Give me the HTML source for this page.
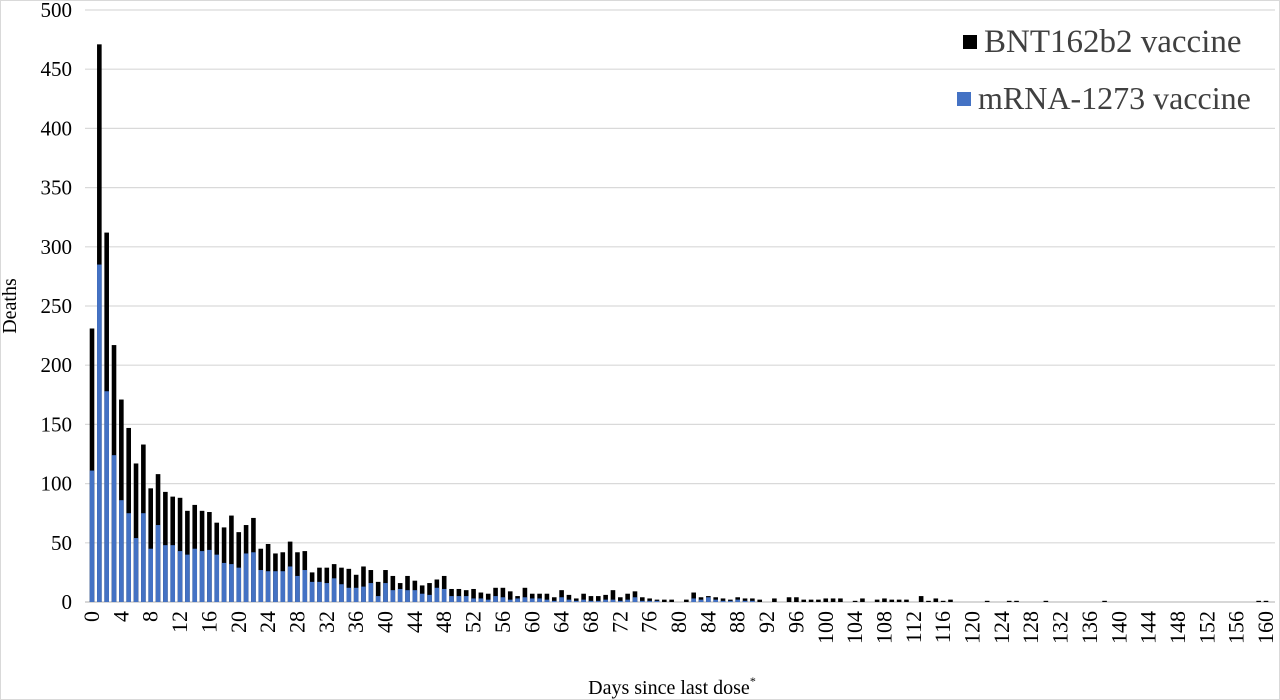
<!DOCTYPE html>
<html><head><meta charset="utf-8"><style>
html,body{margin:0;padding:0;background:#fff;}
svg{display:block;font-family:"Liberation Serif",serif;}
</style></head><body>
<svg width="1280" height="700" viewBox="0 0 1280 700" xmlns="http://www.w3.org/2000/svg">
<rect x="0.5" y="0.5" width="1279" height="699" fill="#fff" stroke="#d9d9d9"/>
<g id="grid" stroke="#d9d9d9" stroke-width="1.2"></g>
<g id="ylab" font-size="21" fill="#000" text-anchor="end"></g>
<g id="bars"></g>
<g id="xlab" font-size="22" fill="#000"></g>
<text x="16" y="306" font-size="20" text-anchor="middle" transform="rotate(-90 16 306)">Deaths</text>
<text x="672" y="694" font-size="20" text-anchor="middle">Days since last dose<tspan font-size="12" dy="-9">*</tspan></text>
<rect x="963" y="35" width="14" height="14" fill="#000"/>
<text x="984" y="52" font-size="33" fill="#404040">BNT162b2 vaccine</text>
<rect x="957" y="92" width="14" height="14" fill="#4472c4"/>
<text x="978" y="109" font-size="32" fill="#404040">mRNA-1273 vaccine</text>
<script>
(function(){
var ns="http://www.w3.org/2000/svg";
function el(t,a,p,txt){var e=document.createElementNS(ns,t);for(var k in a)e.setAttribute(k,a[k]);if(txt!==undefined)e.textContent=txt;document.getElementById(p).appendChild(e);}
var y0=602,sc=592/500;
for(var v=0;v<=500;v+=50){var y=y0-v*sc;if(v>0)el("line",{x1:85,x2:1275,y1:y,y2:y},"grid");el("text",{x:72,y:y+7},"ylab",v);}
el("line",{x1:85,x2:1275,y1:y0,y2:y0,stroke:"#bfbfbf"},"grid");
var T=[231,471,312,217,171,147,117,133,96,108,93,89,88,77,82,77,76,67,63,73,59,65,71,45,49,41,42,51,42,43,25,29,29,32,29,28,23,30,27,17,27,22,16,22,18,14,16,19,22,11,11,10,11,8,7,12,12,9,5,12,7,7,7,4,10,6,3,7,5,5,6,10,4,7,9,4,3,2,2,2,0,2,8,4,5,4,3,2,4,3,3,2,0,3,0,4,4,2,2,2,3,3,3,0,1,3,0,2,3,2,2,2,0,5,1,3,1,2,0,0,0,0,1,0,0,1,1,0,0,0,1,0,0,0,0,0,0,0,1,0,0,0,0,0,0,0,0,0,0,0,0,0,0,0,0,0,0,0,0,1,1];
var B=[111,285,178,124,86,75,54,75,45,65,48,48,43,40,45,43,44,40,33,32,29,41,42,27,26,26,26,30,22,27,17,17,16,20,15,12,12,13,16,5,16,10,11,10,10,7,6,12,11,5,5,5,3,3,2,5,4,2,3,4,3,3,2,1,4,2,1,2,1,1,2,2,1,2,4,1,1,1,0,0,0,0,3,2,4,2,1,1,2,1,1];
var dx=(1266-92)/160,w=4.6;
for(var i=0;i<=160;i++){var x=92+i*dx-w/2,t=T[i]||0,b=B[i]||0;
 if(t>0)el("rect",{x:x,y:y0-t*sc,width:w,height:t*sc,fill:"#000"},"bars");
 if(b>0)el("rect",{x:x,y:y0-b*sc,width:w,height:b*sc,fill:"#4472c4"},"bars");
 if(i%4==0){var cx=92+i*dx+7;el("text",{x:cx,y:611,transform:"rotate(-90 "+cx+" 611)","text-anchor":"end"},"xlab",i);}
}
})();
</script>
</svg>
</body></html>
